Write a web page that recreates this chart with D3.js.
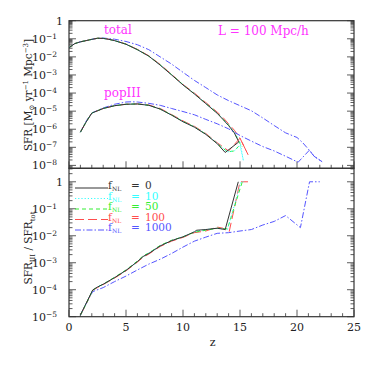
<!DOCTYPE html>
<html>
<head>
<meta charset="utf-8">
<script src="https://cdn.jsdelivr.net/npm/d3@7"></script>
<style>
  body { margin: 0; background: #fff; }
  svg { font-family: "DejaVu Serif", serif; }
</style>
</head>
<body>
<div id="chart"></div>
<script>
// series labels (f_NL values)
const fnlLabels = ["0", "10", "50", "100", "1000"];

// total SFR [z, SFR]
const totalF0 = [[0,3.2e-2],[0.5,5.4e-2],[1,6.8e-2],[1.5,7.9e-2],[2,9.3e-2],[2.5,1.07e-1],[3,1.05e-1],[3.5,9.3e-2],[4,7.9e-2],[5,5.0e-2],[6,2.5e-2],[7,1.1e-2],[8,3.5e-3],[9,1.0e-3],[10,2.8e-4],[11,8.9e-5],[12,2.6e-5],[13,7.6e-6],[13.5,3.5e-6],[14,1.6e-6],[14.5,6.3e-7],[14.9,2.0e-7]];
const totalF10 = [[0,3.2e-2],[0.5,5.4e-2],[1,6.8e-2],[1.5,7.9e-2],[2,9.3e-2],[2.5,1.07e-1],[3,1.05e-1],[3.5,9.3e-2],[4,7.9e-2],[5,5.0e-2],[6,2.5e-2],[7,1.1e-2],[8,3.6e-3],[9,1.05e-3],[10,2.9e-4],[11,9.2e-5],[12,2.7e-5],[13,8.0e-6],[13.5,3.8e-6],[14,1.7e-6],[14.5,7.1e-7],[15,2.0e-7],[15.3,1.8e-8]];
const totalF50 = [[0,3.2e-2],[0.5,5.4e-2],[1,6.8e-2],[1.5,7.9e-2],[2,9.3e-2],[2.5,1.07e-1],[3,1.05e-1],[3.5,9.3e-2],[4,7.9e-2],[5,5.1e-2],[6,2.5e-2],[7,1.1e-2],[8,3.6e-3],[9,1.05e-3],[10,2.9e-4],[11,9.0e-5],[12,2.7e-5],[13,7.8e-6],[13.5,3.7e-6],[14,1.7e-6],[14.5,6.3e-7],[15,1.6e-7],[15.2,1.1e-7]];
const totalF100 = [[0,3.2e-2],[0.5,5.4e-2],[1,6.8e-2],[1.5,7.9e-2],[2,9.3e-2],[2.5,1.07e-1],[3,1.05e-1],[3.5,9.4e-2],[4,8.0e-2],[5,5.1e-2],[6,2.6e-2],[7,1.15e-2],[8,3.8e-3],[9,1.1e-3],[10,3.0e-4],[11,1.0e-4],[12,3.0e-5],[13,8.9e-6],[13.5,4.5e-6],[14,2.0e-6],[14.5,8.9e-7],[15,3.2e-7],[15.7,4.0e-8]];
const totalF1000 = [[0,3.2e-2],[0.5,5.4e-2],[1,6.8e-2],[1.5,7.9e-2],[2,9.3e-2],[2.5,1.07e-1],[3,1.1e-1],[4,9.5e-2],[5,7.1e-2],[6,4.7e-2],[7,2.5e-2],[8,1.0e-2],[9,4.0e-3],[10,1.4e-3],[11,5.0e-4],[12,2.0e-4],[13,7.9e-5],[14,3.8e-5],[15,2.0e-5],[16,1.05e-5],[17,4.2e-6],[18,1.6e-6],[19,6.3e-7],[20,3.5e-7],[20.5,1.8e-7],[21,7.9e-8],[21.5,3.2e-8],[22.2,1.6e-8]];

// popIII SFR [z, SFR]
const popF0 = [[1,6.9e-7],[1.5,2.5e-6],[2,7.8e-6],[2.5,1.05e-5],[3,1.4e-5],[4,2.0e-5],[5,2.4e-5],[6,2.5e-5],[7,2.1e-5],[8,1.3e-5],[9,6.0e-6],[10,2.6e-6],[11,1.3e-6],[12,5.2e-7],[13,1.6e-7],[13.7,5.2e-8],[14.9,2.0e-7]];
const popF10 = [[1,6.9e-7],[1.5,2.5e-6],[2,7.8e-6],[2.5,1.05e-5],[3,1.4e-5],[4,2.0e-5],[5,2.4e-5],[6,2.5e-5],[7,2.1e-5],[8,1.3e-5],[9,6.2e-6],[10,2.7e-6],[11,1.35e-6],[12,5.4e-7],[13,1.7e-7],[13.9,5.6e-8],[14.5,6.3e-8],[15,1.3e-7],[15.3,1.8e-8]];
const popF50 = [[1,6.9e-7],[1.5,2.5e-6],[2,7.8e-6],[2.5,1.05e-5],[3,1.4e-5],[4,2.0e-5],[5,2.4e-5],[6,2.5e-5],[7,2.1e-5],[8,1.3e-5],[9,6.2e-6],[10,2.7e-6],[11,1.35e-6],[12,5.4e-7],[13,1.6e-7],[13.9,5.6e-8],[14.5,6.3e-8],[14.85,1.1e-7],[15.2,1.1e-7]];
const popF100 = [[1,6.9e-7],[1.5,2.5e-6],[2,7.8e-6],[2.5,1.05e-5],[3,1.4e-5],[4,2.0e-5],[5,2.4e-5],[6,2.5e-5],[7,2.2e-5],[8,1.4e-5],[9,6.5e-6],[10,2.9e-6],[11,1.45e-6],[12,5.8e-7],[13,1.8e-7],[14,6.3e-8],[15,3.2e-7],[15.7,4.0e-8]];
const popF1000 = [[1,6.9e-7],[1.5,2.8e-6],[2,7.9e-6],[3,1.5e-5],[4,2.4e-5],[5,3.2e-5],[5.5,3.3e-5],[6,3.2e-5],[7,2.7e-5],[8,2.1e-5],[9,1.4e-5],[10,9.5e-6],[11,6.3e-6],[12,3.5e-6],[13,2.0e-6],[14,1.05e-6],[15,4.5e-7],[16,2.2e-7],[17,1.1e-7],[18,6.3e-8],[19,3.2e-8],[20.1,1.5e-8],[21.1,7.1e-8],[21.5,3.2e-8],[22.2,1.6e-8]];

// SFR_III / SFR_tot [z, ratio]
const ratioF0 = [[1,1.15e-5],[1.35,2.3e-5],[2.08,9.8e-5],[2.5,1.26e-4],[3,1.6e-4],[4,2.8e-4],[5,5.2e-4],[6,1.1e-3],[6.5,1.7e-3],[7,2.2e-3],[8,4.2e-3],[9,6.6e-3],[10,9.1e-3],[11,1.4e-2],[11.2,1.6e-2],[12,1.7e-2],[13,1.9e-2],[13.7,1.7e-2],[14.85,1]];
const ratioF10 = [[1,1.15e-5],[1.35,2.3e-5],[2.08,9.8e-5],[2.5,1.26e-4],[3,1.6e-4],[4,2.8e-4],[5,5.2e-4],[6,1.1e-3],[6.5,1.7e-3],[7,2.3e-3],[8,4.2e-3],[9,6.6e-3],[10,9.1e-3],[11,1.4e-2],[11.2,1.5e-2],[12,1.7e-2],[13,1.9e-2],[13.9,1.7e-2],[15.1,1],[15.3,1]];
const ratioF50 = [[1,1.15e-5],[1.35,2.2e-5],[2.08,9.5e-5],[2.5,1.26e-4],[3,1.6e-4],[4,2.9e-4],[5,5.4e-4],[6,1.15e-3],[6.5,1.8e-3],[7,2.3e-3],[8,4.4e-3],[9,6.8e-3],[10,9.1e-3],[11,1.35e-2],[12,1.6e-2],[13,1.9e-2],[13.9,1.8e-2],[15.2,1],[15.3,1]];
const ratioF100 = [[1,1.15e-5],[1.35,2.2e-5],[2.08,9.5e-5],[2.5,1.2e-4],[3,1.55e-4],[4,2.7e-4],[5,5.0e-4],[6,1.05e-3],[6.5,1.6e-3],[7,2.1e-3],[8,4.0e-3],[9,6.3e-3],[10,8.7e-3],[11,1.3e-2],[12,1.5e-2],[13,2.1e-2],[13.5,1.9e-2],[14.05,1.4e-2],[15,1],[15.7,1]];
const ratioF1000 = [[1,1.15e-5],[1.4,2.5e-5],[2.08,8.5e-5],[3,1.2e-4],[4,2.0e-4],[5,3.2e-4],[6,5.4e-4],[7,8.9e-4],[8,1.35e-3],[9,2.2e-3],[10,3.8e-3],[11,6.3e-3],[12,8.9e-3],[13,1.23e-2],[14,1.3e-2],[15,1.5e-2],[16,1.7e-2],[17,2.5e-2],[18,3.4e-2],[19,5.6e-2],[20.3,2.0e-2],[21.1,1],[22,1]];

// axis ticks
const xTicks = [0, 5, 10, 15, 20, 25];
const topDecades = [0, -1, -2, -3, -4, -5, -6, -7, -8];
const bottomDecades = [0, -1, -2, -3, -4, -5];

const totals = [totalF0, totalF10, totalF50, totalF100, totalF1000];
const pops = [popF0, popF10, popF50, popF100, popF1000];
const ratios = [ratioF0, ratioF10, ratioF50, ratioF100, ratioF1000];

// line styles per series
const colors = ["#333333", "#33ffff", "#33ee33", "#ff4d4d", "#5555ff"];
const dashes = [null, "1.2,2", "4,3", "9,4", "6,2,1.5,2"];
const magenta = "#ff33ff";

const W = 374, H = 374;
const left = 69, right = 354;
const topY0 = 20.7, split = 168.3, bottomY1 = 316.7;

const svg = d3.select("#chart").append("svg")
    .attr("width", W).attr("height", H);

const x = d3.scaleLinear().domain([0, 25]).range([left, right]);
const yTop = d3.scaleLog().domain([Math.pow(10, -8.16), 1]).range([split, topY0]);
const yBot = d3.scaleLog().domain([1e-5, Math.pow(10, 0.5)]).range([bottomY1, split]);

const ink = "#333";

// clip paths for each panel
const defs = svg.append("defs");
defs.append("clipPath").attr("id", "clipTop").append("rect")
    .attr("x", left).attr("y", topY0).attr("width", right - left).attr("height", split - topY0);
defs.append("clipPath").attr("id", "clipBot").append("rect")
    .attr("x", left).attr("y", split).attr("width", right - left).attr("height", bottomY1 - split);

function drawPanel(y, decades, y0, y1) {
    const g = svg.append("g");
    // frame
    g.append("rect")
        .attr("x", left).attr("y", y0)
        .attr("width", right - left).attr("height", y1 - y0)
        .attr("fill", "none").attr("stroke", ink).attr("stroke-width", 1.2);

    // y ticks, major + minor, both sides, pointing inward
    const [lo, hi] = y.domain();
    for (let e = -9; e <= 0; e++) {
        for (let m = 1; m <= 9; m++) {
            const v = m * Math.pow(10, e);
            if (v < lo * 0.999 || v > hi * 1.001) continue;
            const len = m === 1 ? 7 : 3.5;
            const yy = y(v);
            g.append("line").attr("x1", left).attr("x2", left + len)
                .attr("y1", yy).attr("y2", yy).attr("stroke", ink).attr("stroke-width", 0.8);
            g.append("line").attr("x1", right).attr("x2", right - len)
                .attr("y1", yy).attr("y2", yy).attr("stroke", ink).attr("stroke-width", 0.8);
        }
    }

    // x ticks along the bottom edge, pointing up
    d3.range(0, 26).forEach(z => {
        const len = z % 5 === 0 ? 7 : 3.5;
        g.append("line").attr("x1", x(z)).attr("x2", x(z))
            .attr("y1", y1).attr("y2", y1 - len).attr("stroke", ink).attr("stroke-width", 0.8);
    });

    // y tick labels
    decades.forEach(e => {
        const t = g.append("text")
            .attr("y", y(Math.pow(10, e)) + 4)
            .attr("text-anchor", "end")
            .attr("font-size", 11)
            .attr("fill", "#222");
        if (e === 0) {
            t.attr("x", 63).text("1");
        } else {
            t.attr("x", 57);
            t.append("tspan").text("10");
            t.append("tspan").attr("dy", -4).attr("font-size", 7.5).text("\u2212" + (-e));
        }
    });
}

drawPanel(yTop, topDecades, topY0, split);
drawPanel(yBot, bottomDecades, split, bottomY1);

// x tick labels
svg.append("g").selectAll("text").data(xTicks).join("text")
    .attr("x", d => x(d)).attr("y", 331)
    .attr("text-anchor", "middle").attr("font-size", 11).attr("fill", "#222")
    .text(d => d);

svg.append("text").attr("x", x(12.6)).attr("y", 346)
    .attr("text-anchor", "middle").attr("font-size", 11).attr("fill", "#222").text("z");

// y axis titles
const t1 = svg.append("text")
    .attr("transform", "translate(32,95) rotate(-90)")
    .attr("text-anchor", "middle").attr("font-size", 10.5).attr("fill", "#222");
t1.append("tspan").text("SFR [M");
t1.append("tspan").attr("dy", 2).attr("font-size", 7).text("\u2299");
t1.append("tspan").attr("dy", -2).text(" yr");
t1.append("tspan").attr("dy", -4).attr("font-size", 7).text("\u22121");
t1.append("tspan").attr("dy", 4).text(" Mpc");
t1.append("tspan").attr("dy", -4).attr("font-size", 7).text("\u22123");
t1.append("tspan").attr("dy", 4).text("]");

const t2 = svg.append("text")
    .attr("transform", "translate(32,248) rotate(-90)")
    .attr("text-anchor", "middle").attr("font-size", 10.5).attr("fill", "#222");
t2.append("tspan").text("SFR");
t2.append("tspan").attr("dy", 3).attr("font-size", 7).text("III");
t2.append("tspan").attr("dy", -3).text(" / SFR");
t2.append("tspan").attr("dy", 3).attr("font-size", 7).text("tot");

// curves, drawn from last series to first so black sits on top
function drawCurves(sets, y, clip) {
    const line = d3.line().x(d => x(d[0])).y(d => y(d[1]));
    const g = svg.append("g").attr("clip-path", "url(#" + clip + ")");
    for (let i = sets.length - 1; i >= 0; i--) {
        g.append("path")
            .datum(sets[i])
            .attr("d", line)
            .attr("fill", "none")
            .attr("stroke", colors[i])
            .attr("stroke-width", 1)
            .attr("stroke-dasharray", dashes[i]);
    }
}

drawCurves(totals, yTop, "clipTop");
drawCurves(pops, yTop, "clipTop");
drawCurves(ratios, yBot, "clipBot");

// panel annotations
const notes = svg.append("g").attr("fill", magenta).attr("font-size", 12);
notes.append("text").attr("x", 104).attr("y", 34).text("total");
notes.append("text").attr("x", 104).attr("y", 97).text("popIII");
notes.append("text").attr("x", 218).attr("y", 35).text("L = 100 Mpc/h");

// legend
const legend = svg.append("g");
fnlLabels.forEach((lab, i) => {
    const yy = 189 + i * 10.5;
    legend.append("line")
        .attr("x1", 75).attr("x2", 108)
        .attr("y1", yy - 1).attr("y2", yy - 1)
        .attr("stroke", colors[i]).attr("stroke-width", 1)
        .attr("stroke-dasharray", dashes[i]);
    const t = legend.append("text")
        .attr("y", yy)
        .attr("font-size", 10.5).attr("fill", colors[i]);
    t.append("tspan").attr("x", 108).text("f");
    t.append("tspan").attr("dy", 2).attr("font-size", 6).text("NL");
    t.append("tspan").attr("x", 131).attr("dy", -2).text("=");
    t.append("tspan").attr("x", 145).text(lab);
});
</script>
</body>
</html>
